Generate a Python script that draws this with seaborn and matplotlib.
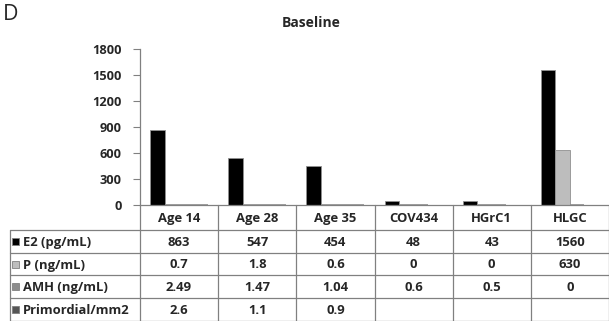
import numpy as np
import pandas as pd
import seaborn as sns
import matplotlib.pyplot as plt
from matplotlib.patches import Rectangle

# data
categories = ['Age 14', 'Age 28', 'Age 35', 'COV434', 'HGrC1', 'HLGC']
series = ['E2 (pg/mL)', 'P (ng/mL)', 'AMH (ng/mL)', 'Primordial/mm2']
e2 = [863, 547, 454, 48, 43, 1560]
p = [0.7, 1.8, 0.6, 0, 0, 630]
amh = [2.49, 1.47, 1.04, 0.6, 0.5, 0]
primordial = [2.6, 1.1, 0.9, np.nan, np.nan, np.nan]
colors = ['#000000', '#bdbdbd', '#8c8c8c', '#555555']
yticks = [0, 300, 600, 900, 1200, 1500, 1800]

values = [e2, p, amh, primordial]
df = pd.DataFrame({
    'cat': categories * len(series),
    'series': [s for s in series for _ in categories],
    'value': [v for vals in values for v in vals],
})

sns.set_style('white')
plt.rcParams['font.family'] = ['Open Sans', 'DejaVu Sans']
FS = 9.4
GRID = '#808080'

fig = plt.figure(figsize=(6.09, 3.21), dpi=100)
# plot area in pixels: x 140..609, y 49..205
AX_L, AX_R, AX_T, AX_B = 140, 609, 49, 205
ax = fig.add_axes([AX_L / 609, 1 - AX_B / 321, (AX_R - AX_L) / 609, (AX_B - AX_T) / 321])

def px(x, y):
    # pixel position -> axes fraction
    return (x - AX_L) / (AX_R - AX_L), (AX_B - y) / (AX_B - AX_T)

sns.barplot(data=df, x='cat', y='value', hue='series', order=categories,
            hue_order=series, palette=colors, width=0.74, edgecolor='#909090',
            linewidth=0.6, legend=False, ax=ax)
# tiny bars still show as a thin line at the baseline
for bar in ax.patches:
    if bar.get_height() < 10:
        bar.set_linewidth(1.2)

ax.set_ylim(0, 1800)
ax.set_xlim(-0.5, len(categories) - 0.5)
ax.set_yticks(yticks)
ax.set_yticklabels([str(t) for t in yticks], fontsize=9.2, fontweight='bold')
ax.set_xticks([])
ax.set_xlabel('')
ax.set_ylabel('')
ax.tick_params(axis='y', direction='out', length=5, color=GRID, width=0.8,
               left=True, pad=8)
for s in ['top', 'right']:
    ax.spines[s].set_visible(False)
for s in ['left', 'bottom']:
    ax.spines[s].set_color(GRID)
    ax.spines[s].set_linewidth(0.9)

# data table under the bars, drawn by hand
row_lines = [205, 230, 253, 275, 298, 321]
col_w = (AX_R - AX_L) / len(categories)

def hline(y, x1, x2):
    (a, b), (c, _) = px(x1, y), px(x2, y)
    ax.plot([a, c], [b, b], transform=ax.transAxes, clip_on=False, color=GRID, lw=0.9)

def vline(x, y1, y2):
    (a, b), (_, d) = px(x, y1), px(x, y2)
    ax.plot([a, a], [b, d], transform=ax.transAxes, clip_on=False, color=GRID, lw=0.9)

for y in row_lines[1:]:
    hline(y, 10, AX_R)
vline(10, row_lines[1], row_lines[-1])
for k in range(len(categories) + 1):
    vline(AX_L + k * col_w, row_lines[0], row_lines[-1])

def fmt(v):
    return '' if np.isnan(v) else '{:g}'.format(v)

for j, cat in enumerate(categories):
    xc = AX_L + (j + 0.5) * col_w
    ax.text(*px(xc, (row_lines[0] + row_lines[1]) / 2 + 1), cat, transform=ax.transAxes,
            ha='center', va='center', fontsize=FS, fontweight='bold')
    for i, vals in enumerate(values):
        yc = (row_lines[i + 1] + row_lines[i + 2]) / 2 + 1
        ax.text(*px(xc, yc), fmt(vals[j]), transform=ax.transAxes,
                ha='center', va='center', fontsize=FS, fontweight='bold')

# row labels with colour keys
for i, (name, col) in enumerate(zip(series, colors)):
    yc = (row_lines[i + 1] + row_lines[i + 2]) / 2
    ax.add_patch(Rectangle(px(12, yc + 3.5), 7 / (AX_R - AX_L), 7 / (AX_B - AX_T),
                           transform=ax.transAxes, clip_on=False,
                           facecolor=col, edgecolor=GRID, linewidth=0.6))
    ax.text(*px(23, yc + 1), name, transform=ax.transAxes,
            ha='left', va='center', fontsize=FS, fontweight='bold')

fig.text(311 / 609, 1 - 23 / 321, 'Baseline', ha='center', va='center',
         fontsize=10, fontweight='bold')
fig.text(3 / 609, 1 - 14 / 321, 'D', ha='left', va='center',
         fontsize=15.5, fontweight='normal')

fig.savefig('out.png', dpi=100)
